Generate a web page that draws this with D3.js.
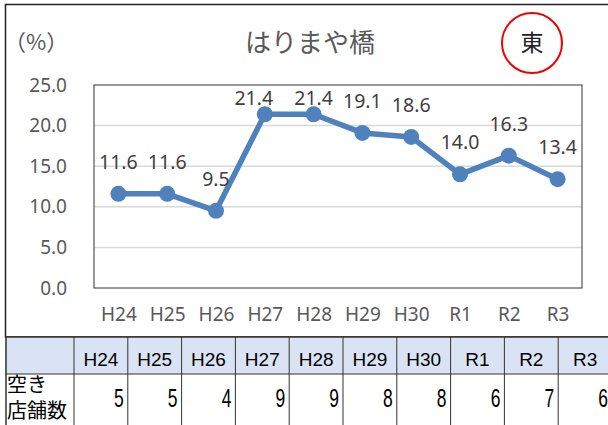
<!DOCTYPE html>
<html>
<head>
<meta charset="utf-8">
<script src="https://cdn.jsdelivr.net/npm/d3@7"></script>
<style>
  body { margin: 0; background: #fff; }
  svg { display: block; }
</style>
</head>
<body>
<script>
const years = ['H24', 'H25', 'H26', 'H27', 'H28', 'H29', 'H30', 'R1', 'R2', 'R3'];
const rates = [11.6, 11.6, 9.5, 21.4, 21.4, 19.1, 18.6, 14.0, 16.3, 13.4];
const shops = [5, 5, 4, 9, 9, 8, 8, 6, 7, 6];
const yTicks = [0, 5, 10, 15, 20, 25];
const title = 'はりまや橋';
const area = '東';
const rowLabel = ['空き', '店舗数'];

const width = 608;
const height = 425;
const plot = {left: 94, top: 85, right: 582, bottom: 288};
const tableTop = 337;
const rowH = 37;

const grey = '#595959';
const sans = '"Noto Sans", "Open Sans", sans-serif';
const jp = '"Noto Sans CJK JP", sans-serif';
const arial = '"Liberation Sans", Arial, sans-serif';

var svg = d3.select('body').append('svg')
    .attr('width', width)
    .attr('height', height);

// chart frame
svg.append('rect')
    .attr('x', 5.5)
    .attr('y', 4.5)
    .attr('width', 700)
    .attr('height', tableTop - 4.5)
    .attr('fill', 'none')
    .attr('stroke', '#222')
    .attr('stroke-width', 1.5);

svg.append('text')
    .text(title)
    .attr('x', 310)
    .attr('y', 52)
    .attr('text-anchor', 'middle')
    .attr('font-family', jp)
    .attr('font-size', 26)
    .attr('fill', grey);

svg.append('text')
    .text('（%）')
    .attr('x', 4)
    .attr('y', 50)
    .attr('font-family', jp)
    .attr('font-size', 22)
    .attr('fill', grey);

svg.append('circle')
    .attr('cx', 532)
    .attr('cy', 43)
    .attr('r', 30)
    .attr('fill', 'none')
    .attr('stroke', '#f00000')
    .attr('stroke-width', 2);

svg.append('text')
    .text(area)
    .attr('x', 532)
    .attr('y', 51)
    .attr('text-anchor', 'middle')
    .attr('font-family', jp)
    .attr('font-size', 23)
    .attr('fill', '#222');

const xScale = d3.scalePoint()
    .domain(years)
    .range([plot.left, plot.right])
    .padding(0.5);

const yScale = d3.scaleLinear()
    .domain([0, 25])
    .range([plot.bottom, plot.top]);

// gridlines
svg.append('g')
    .selectAll('line')
    .data(yTicks.slice(1, -1))
    .enter()
    .append('line')
        .attr('x1', plot.left)
        .attr('x2', plot.right)
        .attr('y1', d => yScale(d))
        .attr('y2', d => yScale(d))
        .attr('stroke', '#d9d9d9')
        .attr('stroke-width', 1.5);

svg.append('rect')
    .attr('x', plot.left)
    .attr('y', plot.top)
    .attr('width', plot.right - plot.left)
    .attr('height', plot.bottom - plot.top)
    .attr('fill', 'none')
    .attr('stroke', '#333')
    .attr('stroke-width', 1);

const yAxis = d3.axisLeft(yScale)
    .tickValues(yTicks)
    .tickFormat(d3.format('.1f'))
    .tickSize(0)
    .tickPadding(0);

const yg = svg.append('g')
    .attr('transform', 'translate(67, 0)')
    .call(yAxis);
yg.select('.domain').remove();
yg.selectAll('text')
    .attr('font-family', sans)
    .attr('font-size', 19)
    .attr('fill', grey);

const xAxis = d3.axisBottom(xScale)
    .tickSize(0)
    .tickPadding(0);

const xg = svg.append('g')
    .attr('transform', 'translate(0, 307)')
    .call(xAxis);
xg.select('.domain').remove();
xg.selectAll('text')
    .attr('font-family', sans)
    .attr('font-size', 19)
    .attr('fill', grey);

const points = years.map((y, i) => ({year: y, value: rates[i]}));

const line = d3.line()
    .x(d => xScale(d.year))
    .y(d => yScale(d.value));

svg.append('path')
    .datum(points)
    .attr('d', line)
    .attr('fill', 'none')
    .attr('stroke', '#4f81bd')
    .attr('stroke-width', 5.5)
    .attr('stroke-linejoin', 'round');

svg.selectAll('circle.pt')
    .data(points)
    .enter()
    .append('circle')
        .attr('class', 'pt')
        .attr('cx', d => xScale(d.year))
        .attr('cy', d => yScale(d.value))
        .attr('r', 8)
        .attr('fill', '#4f81bd');

// data labels sit above the markers, kept inside the plot box
svg.selectAll('text.lbl')
    .data(points)
    .enter()
    .append('text')
        .attr('class', 'lbl')
        .text(d => d.value.toFixed(1))
        .attr('x', (d, i) => xScale(d.year) - (i === 3 ? 11 : 0))
        .attr('y', d => Math.max(yScale(d.value) - 25, plot.top + 20))
        .attr('text-anchor', 'middle')
        .attr('font-family', sans)
        .attr('font-size', 19.5)
        .attr('fill', '#404040');

// table
const colX = d3.scaleBand()
    .domain(years)
    .range([74, 74 + 53.8 * years.length]);

const table = svg.append('g');

table.append('rect')
    .attr('x', 5)
    .attr('y', tableTop)
    .attr('width', 700)
    .attr('height', rowH)
    .attr('fill', '#dae3f3');

table.append('line')
    .attr('x1', 5).attr('x2', 700)
    .attr('y1', tableTop).attr('y2', tableTop)
    .attr('stroke', '#333').attr('stroke-width', 1.5);

table.append('line')
    .attr('x1', 5).attr('x2', 700)
    .attr('y1', tableTop + rowH).attr('y2', tableTop + rowH)
    .attr('stroke', '#333').attr('stroke-width', 1);

table.append('line')
    .attr('x1', 6).attr('x2', 6)
    .attr('y1', tableTop).attr('y2', height)
    .attr('stroke', '#333').attr('stroke-width', 1.5);

table.selectAll('line.col')
    .data(years)
    .enter()
    .append('line')
        .attr('class', 'col')
        .attr('x1', d => colX(d))
        .attr('x2', d => colX(d))
        .attr('y1', tableTop)
        .attr('y2', height)
        .attr('stroke', '#333')
        .attr('stroke-width', 1);

table.selectAll('text.head')
    .data(years)
    .enter()
    .append('text')
        .attr('class', 'head')
        .text(d => d)
        .attr('x', d => colX(d) + colX.bandwidth() / 2)
        .attr('y', tableTop + 29)
        .attr('text-anchor', 'middle')
        .attr('font-family', arial)
        .attr('font-size', 19)
        .attr('fill', '#000');

// numbers are tall and narrow in the original, so squeeze them horizontally
table.selectAll('text.num')
    .data(shops)
    .enter()
    .append('text')
        .attr('class', 'num')
        .text(d => d)
        .attr('x', (d, i) => colX(years[i]) + colX.bandwidth() - 4)
        .attr('y', tableTop + rowH + 33)
        .attr('text-anchor', 'end')
        .attr('font-family', arial)
        .attr('font-size', 25)
        .attr('transform', (d, i) => {
            const x = colX(years[i]) + colX.bandwidth() - 4;
            return `translate(${x * 0.3}, 0) scale(0.7, 1)`;
        })
        .attr('fill', '#000');

table.selectAll('text.rowlbl')
    .data(rowLabel)
    .enter()
    .append('text')
        .attr('class', 'rowlbl')
        .text(d => d)
        .attr('x', 7)
        .attr('y', (d, i) => tableTop + rowH + 18 + i * 25.5)
        .attr('font-family', jp)
        .attr('font-size', 20)
        .attr('fill', '#000');
</script>
</body>
</html>
